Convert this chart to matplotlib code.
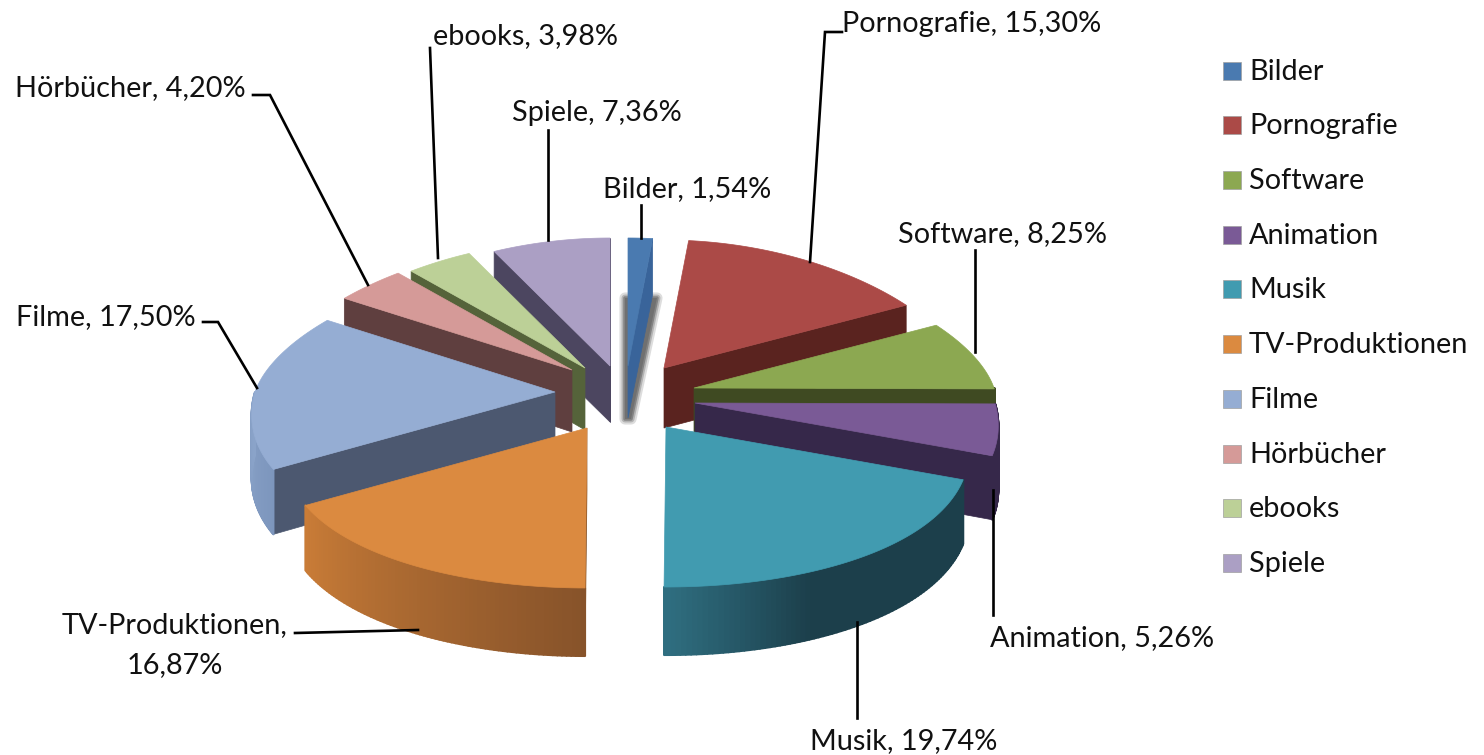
import numpy as np
import matplotlib
matplotlib.use('Agg')
import matplotlib.pyplot as plt
from matplotlib.colors import to_rgb
from matplotlib.patches import Polygon, Rectangle
from matplotlib.collections import PolyCollection

plt.rcParams['font.family'] = ['Lato', 'DejaVu Sans']

categories = ['Bilder', 'Pornografie', 'Software', 'Animation', 'Musik',
              'TV-Produktionen', 'Filme', 'Hörbücher', 'ebooks', 'Spiele']
shares = [1.54, 15.30, 8.25, 5.26, 19.74, 16.87, 17.50, 4.20, 3.98, 7.36]

# Farben: Oberseite und Schnittkante
top_colors = ['#4a7ab0', '#ab4a47', '#8ca851', '#7a5a96', '#419bb0',
              '#db8a40', '#95add3', '#d59a98', '#bcd097', '#ab9fc4']
side_colors = ['#39649a', '#5a231f', '#3f4a22', '#36284a', '#1c3f4b',
               '#8a5528', '#4c5870', '#5f3f3f', '#55633a', '#4c4660']
# Mantel: Farbe am Anfang / Ende des sichtbaren Bogens
rim_colors = [('#39649a', '#39649a'), ('#5a231f', '#5a231f'), ('#3f4a22', '#3f4a22'),
              ('#36284a', '#36284a'), ('#1c3f4b', '#2f6e80'), ('#87532a', '#c97c37'),
              ('#7d96bd', '#8aa3c9'), ('#5f3f3f', '#5f3f3f'), ('#55633a', '#55633a'),
              ('#4c4660', '#4c4660')]

# Spitze jedes Stücks im Bild (explodierte Darstellung)
apex_x = [628, 664, 694, 695, 666, 587, 555, 572, 585, 610]
apex_y = [366, 368, 388, 403, 427, 428, 392, 370, 368, 366]
tip_depth = [52, 60, 62, 62, 62, 62, 62, 62, 62, 56]
draw_order = [0, 9, 8, 7, 1, 2, 3, 6, 5, 4]

RX, RY_BACK, RY_FRONT = 300, 128, 160
FS = 20.8


def rim(theta):
    # theta im Uhrzeigersinn ab 12 Uhr, Grad; mit etwas Perspektive
    t = np.radians(theta)
    x = RX * np.sin(t) * (1 - 0.15 * np.cos(t))
    y = -np.cos(t) * np.where(np.cos(t) > 0, RY_BACK, RY_FRONT)
    return x, y


def depth(theta):
    return 62 - 6 * np.cos(np.radians(theta))


fig = plt.figure(figsize=(14.84, 7.55), dpi=100)
ax = fig.add_axes([0, 0, 1, 1])
ax.set_xlim(0, 1484)
ax.set_ylim(755, 0)
ax.axis('off')

edges = np.concatenate([[0], np.cumsum(shares)]) * 3.6
z = 2
for i in draw_order:
    t1, t2 = edges[i], edges[i + 1]
    ax_, ay_ = apex_x[i], apex_y[i]
    ts = np.linspace(t1, t2, 60)
    xs, ys = rim(ts)
    xs, ys = xs + ax_, ys + ay_

    # Schatten um das schmale Stück
    if i == 0:
        shadow = [(625, 298), (657, 298), (631, 419), (625, 419)]
        for lw, a in [(8, 0.2), (5, 0.3), (2.5, 0.5)]:
            ax.add_patch(Polygon(shadow, closed=True, fc='none', ec='#555555', lw=lw,
                                 alpha=a, zorder=z, joinstyle='round'))
        ax.add_patch(Polygon(shadow, closed=True, fc='#707070', ec='none', zorder=z))
        z += 1

    # Schnittflächen, nur wenn sie zum Betrachter zeigen
    for t, show in ((t2, np.sin(np.radians(t2)) > 0), (t1, np.sin(np.radians(t1)) < 0)):
        if show:
            ex, ey = rim(t)
            d = depth(t)
            ax.add_patch(Polygon([(ax_, ay_), (ax_ + ex, ay_ + ey), (ax_ + ex, ay_ + ey + d),
                                  (ax_, ay_ + tip_depth[i])], closed=True, fc=side_colors[i],
                                 ec=side_colors[i], lw=0.5, zorder=z))
            z += 1

    # Mantel vorne mit Verlauf
    lo, hi = max(t1, 90), min(t2, 270)
    if lo < hi:
        tw = np.linspace(lo, hi, 80)
        wx, wy = rim(tw)
        wx, wy = wx + ax_, wy + ay_
        wd = depth(tw)
        c0, c1 = np.array(to_rgb(rim_colors[i][0])), np.array(to_rgb(rim_colors[i][1]))
        polys, cols = [], []
        for k in range(len(tw) - 1):
            polys.append([(wx[k], wy[k]), (wx[k + 1], wy[k + 1]),
                          (wx[k + 1], wy[k + 1] + wd[k + 1]), (wx[k], wy[k] + wd[k])])
            f = k / (len(tw) - 2)
            if i == 4:
                f = max(0, (f - 0.65) / 0.35)
            cols.append(c0 + (c1 - c0) * f)
        ax.add_collection(PolyCollection(polys, facecolors=cols, edgecolors=cols, lw=1.5, zorder=z))
        z += 1

    # Oberseite
    ax.add_patch(Polygon(np.column_stack([np.r_[ax_, xs], np.r_[ay_, ys]]), closed=True,
                         fc=top_colors[i], ec=top_colors[i], lw=0.5, zorder=z))
    z += 1

# Beschriftung und Führungslinien
label_x = [603, 842, 898, 990, 810, 62, 16, 15, 433, 512]
label_y = [189, 24, 234, 638, 741, 625, 317, 88, 36, 113]
leaders = [([641, 641], [205, 238]),
           ([842, 825, 810], [32, 32, 262]),
           ([975, 975], [250, 352]),
           ([993, 993], [615, 490]),
           ([857, 857], [718, 622]),
           ([295, 418], [633, 630]),
           ([203, 218, 257], [322, 322, 388]),
           ([253, 270, 368], [95, 95, 285]),
           ([430, 438], [48, 258]),
           ([548, 548], [130, 240])]
for i, name in enumerate(categories):
    share = f'{shares[i]:.2f}'.replace('.', ',') + '%'
    if name == 'TV-Produktionen':
        ax.text(62, 625, f'{name},', fontsize=FS, va='center', color='#111111', zorder=200)
        ax.text(127, 665, share, fontsize=FS, va='center', color='#111111', zorder=200)
    else:
        ax.text(label_x[i], label_y[i], f'{name}, {share}', fontsize=FS, va='center',
                color='#111111', zorder=200)
    ax.plot(leaders[i][0], leaders[i][1], color='black', lw=1.9, zorder=150, solid_joinstyle='miter')

# Legende
legend_y = [71, 125, 180, 235, 289, 344, 399, 454, 508, 563]
for i, name in enumerate(categories):
    ax.add_patch(Rectangle((1223, legend_y[i] - 9), 18, 18, fc=top_colors[i], ec='#a0a0a0', lw=0.5, zorder=200))
    ax.text(1249, legend_y[i] + 1, name, fontsize=FS, va='center', color='#111111', zorder=200)

fig.savefig('out.png', dpi=100)
